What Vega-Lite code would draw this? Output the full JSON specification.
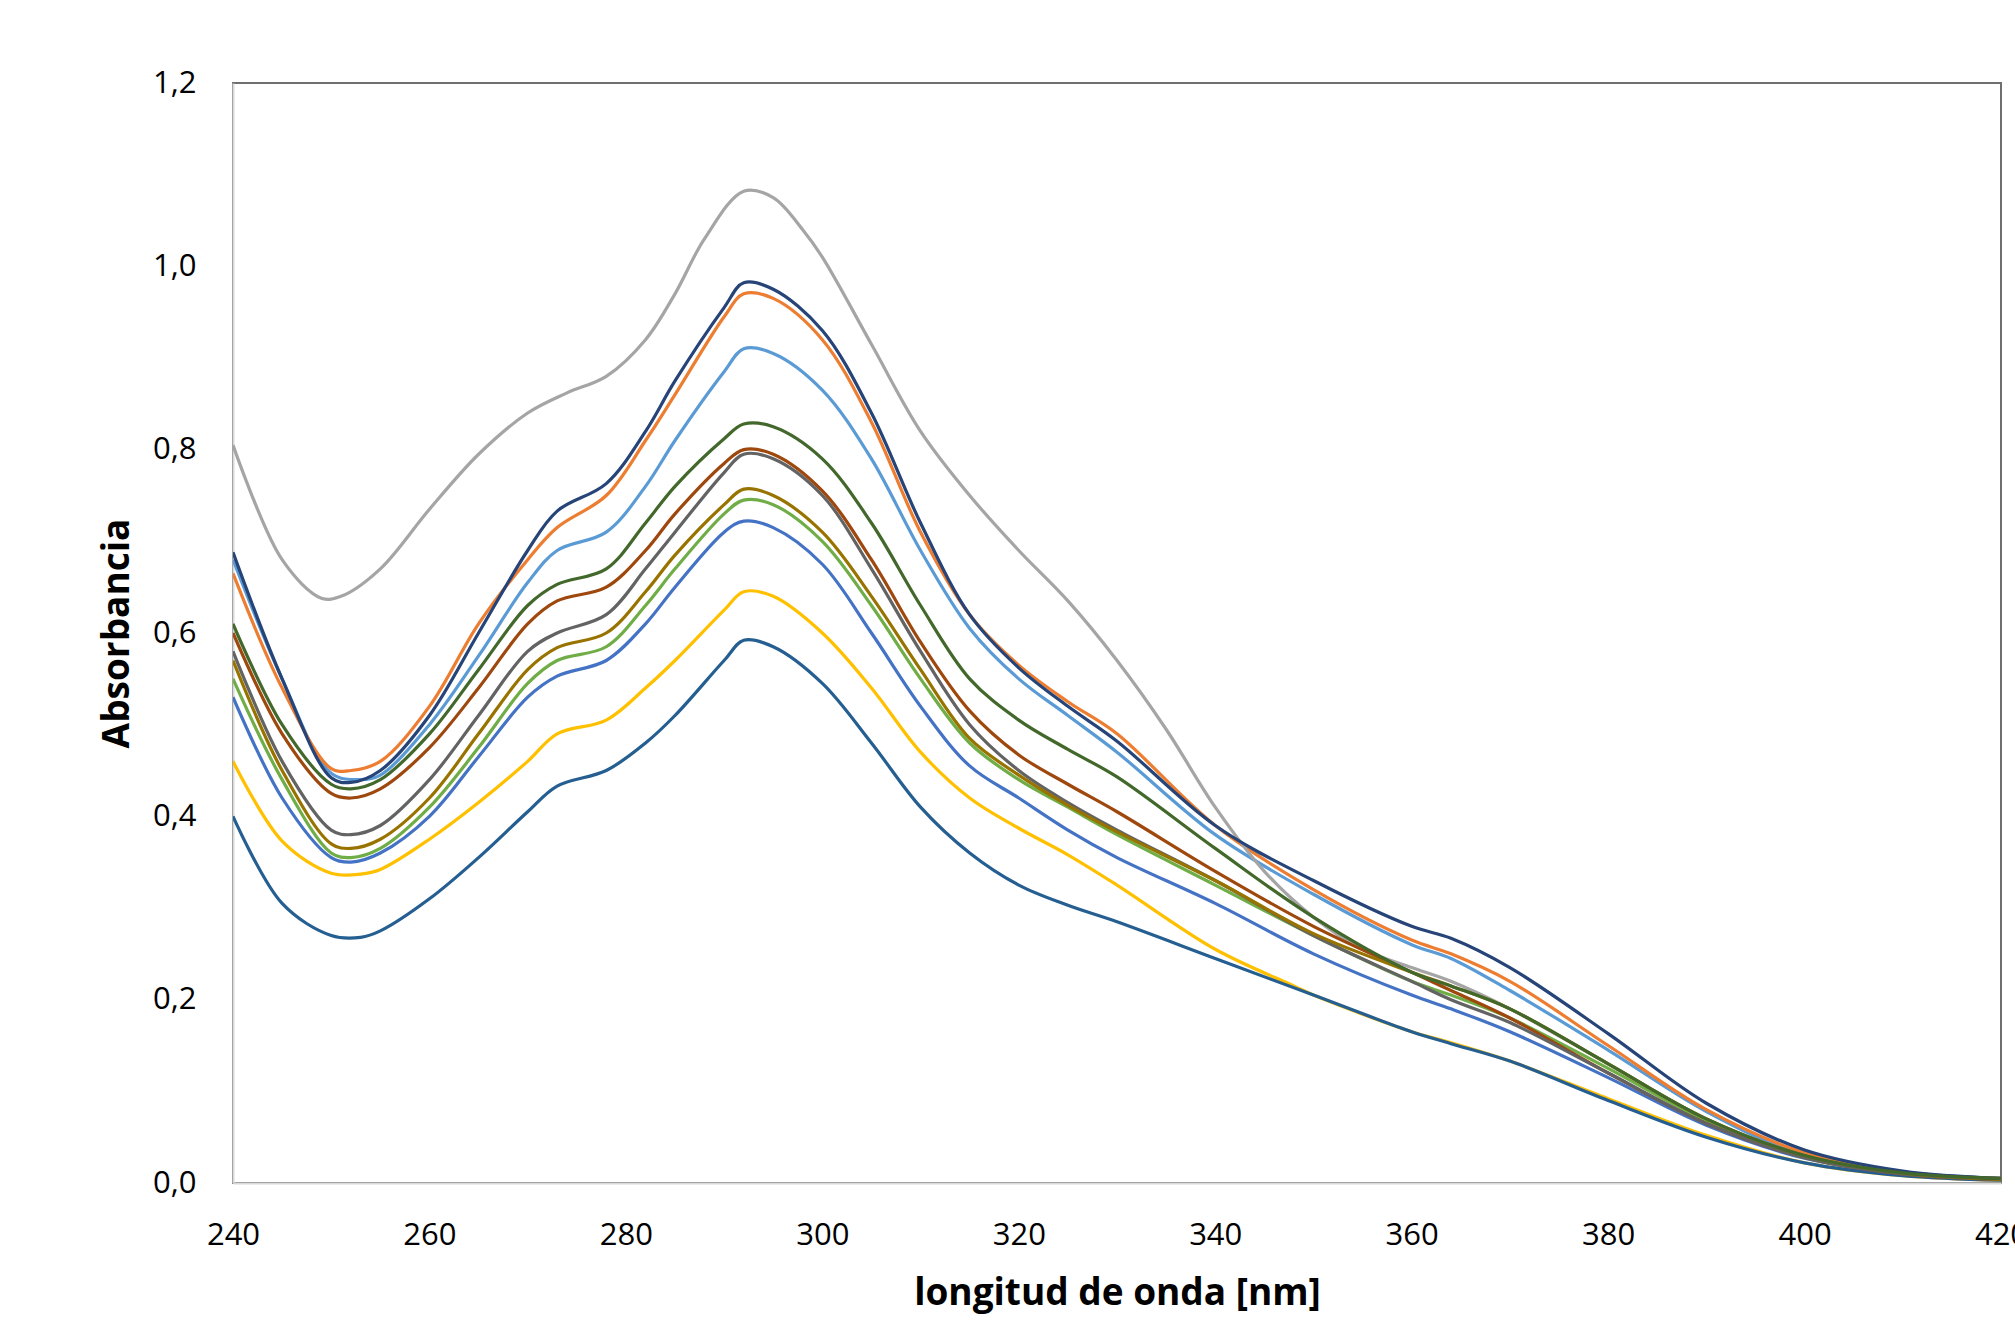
{
  "$schema": "https://vega.github.io/schema/vega-lite/v6.json",
  "width": 1768,
  "height": 1100,
  "autosize": {"type": "none"},
  "padding": {"left": 233, "top": 83, "right": 14, "bottom": 140},
  "background": "white",
  "datasets": {
    "spectra": [
      {"serie":"Serie 1","nm":240,"abs":0.68},{"serie":"Serie 1","nm":245,"abs":0.55},{"serie":"Serie 1","nm":250,"abs":0.447},{"serie":"Serie 1","nm":253,"abs":0.44},{"serie":"Serie 1","nm":255,"abs":0.445},{"serie":"Serie 1","nm":260,"abs":0.5},{"serie":"Serie 1","nm":265,"abs":0.575},{"serie":"Serie 1","nm":270,"abs":0.655},{"serie":"Serie 1","nm":273,"abs":0.69},{"serie":"Serie 1","nm":278,"abs":0.71},{"serie":"Serie 1","nm":282,"abs":0.76},{"serie":"Serie 1","nm":285,"abs":0.81},{"serie":"Serie 1","nm":290,"abs":0.885},{"serie":"Serie 1","nm":292,"abs":0.91},{"serie":"Serie 1","nm":295,"abs":0.905},{"serie":"Serie 1","nm":300,"abs":0.865},{"serie":"Serie 1","nm":305,"abs":0.79},{"serie":"Serie 1","nm":310,"abs":0.69},{"serie":"Serie 1","nm":315,"abs":0.605},{"serie":"Serie 1","nm":320,"abs":0.55},{"serie":"Serie 1","nm":325,"abs":0.51},{"serie":"Serie 1","nm":330,"abs":0.47},{"serie":"Serie 1","nm":340,"abs":0.38},{"serie":"Serie 1","nm":350,"abs":0.315},{"serie":"Serie 1","nm":360,"abs":0.26},{"serie":"Serie 1","nm":364,"abs":0.245},{"serie":"Serie 1","nm":370,"abs":0.21},{"serie":"Serie 1","nm":380,"abs":0.145},{"serie":"Serie 1","nm":390,"abs":0.078},{"serie":"Serie 1","nm":400,"abs":0.03},{"serie":"Serie 1","nm":410,"abs":0.012},{"serie":"Serie 1","nm":420,"abs":0.005},

      {"serie":"Serie 2","nm":240,"abs":0.665},{"serie":"Serie 2","nm":245,"abs":0.54},{"serie":"Serie 2","nm":250,"abs":0.452},{"serie":"Serie 2","nm":252,"abs":0.45},{"serie":"Serie 2","nm":255,"abs":0.46},{"serie":"Serie 2","nm":260,"abs":0.52},{"serie":"Serie 2","nm":265,"abs":0.61},{"serie":"Serie 2","nm":270,"abs":0.68},{"serie":"Serie 2","nm":273,"abs":0.715},{"serie":"Serie 2","nm":278,"abs":0.75},{"serie":"Serie 2","nm":282,"abs":0.81},{"serie":"Serie 2","nm":285,"abs":0.86},{"serie":"Serie 2","nm":290,"abs":0.945},{"serie":"Serie 2","nm":292,"abs":0.97},{"serie":"Serie 2","nm":295,"abs":0.965},{"serie":"Serie 2","nm":300,"abs":0.92},{"serie":"Serie 2","nm":305,"abs":0.83},{"serie":"Serie 2","nm":310,"abs":0.71},{"serie":"Serie 2","nm":315,"abs":0.62},{"serie":"Serie 2","nm":320,"abs":0.565},{"serie":"Serie 2","nm":325,"abs":0.525},{"serie":"Serie 2","nm":330,"abs":0.49},{"serie":"Serie 2","nm":340,"abs":0.39},{"serie":"Serie 2","nm":350,"abs":0.32},{"serie":"Serie 2","nm":360,"abs":0.265},{"serie":"Serie 2","nm":364,"abs":0.25},{"serie":"Serie 2","nm":370,"abs":0.22},{"serie":"Serie 2","nm":380,"abs":0.15},{"serie":"Serie 2","nm":390,"abs":0.08},{"serie":"Serie 2","nm":400,"abs":0.033},{"serie":"Serie 2","nm":410,"abs":0.012},{"serie":"Serie 2","nm":420,"abs":0.005},

      {"serie":"Serie 3","nm":240,"abs":0.805},{"serie":"Serie 3","nm":245,"abs":0.68},{"serie":"Serie 3","nm":249,"abs":0.638},{"serie":"Serie 3","nm":251,"abs":0.64},{"serie":"Serie 3","nm":255,"abs":0.67},{"serie":"Serie 3","nm":260,"abs":0.735},{"serie":"Serie 3","nm":265,"abs":0.795},{"serie":"Serie 3","nm":270,"abs":0.84},{"serie":"Serie 3","nm":274,"abs":0.862},{"serie":"Serie 3","nm":278,"abs":0.88},{"serie":"Serie 3","nm":282,"abs":0.92},{"serie":"Serie 3","nm":285,"abs":0.97},{"serie":"Serie 3","nm":288,"abs":1.03},{"serie":"Serie 3","nm":292,"abs":1.082},{"serie":"Serie 3","nm":295,"abs":1.075},{"serie":"Serie 3","nm":298,"abs":1.04},{"serie":"Serie 3","nm":300,"abs":1.01},{"serie":"Serie 3","nm":305,"abs":0.915},{"serie":"Serie 3","nm":310,"abs":0.82},{"serie":"Serie 3","nm":315,"abs":0.75},{"serie":"Serie 3","nm":320,"abs":0.69},{"serie":"Serie 3","nm":325,"abs":0.635},{"serie":"Serie 3","nm":330,"abs":0.57},{"serie":"Serie 3","nm":335,"abs":0.495},{"serie":"Serie 3","nm":340,"abs":0.41},{"serie":"Serie 3","nm":345,"abs":0.34},{"serie":"Serie 3","nm":350,"abs":0.29},{"serie":"Serie 3","nm":355,"abs":0.255},{"serie":"Serie 3","nm":360,"abs":0.235},{"serie":"Serie 3","nm":364,"abs":0.22},{"serie":"Serie 3","nm":370,"abs":0.19},{"serie":"Serie 3","nm":380,"abs":0.13},{"serie":"Serie 3","nm":390,"abs":0.07},{"serie":"Serie 3","nm":400,"abs":0.03},{"serie":"Serie 3","nm":410,"abs":0.011},{"serie":"Serie 3","nm":420,"abs":0.004},

      {"serie":"Serie 4","nm":240,"abs":0.46},{"serie":"Serie 4","nm":245,"abs":0.373},{"serie":"Serie 4","nm":250,"abs":0.338},{"serie":"Serie 4","nm":253,"abs":0.337},{"serie":"Serie 4","nm":255,"abs":0.342},{"serie":"Serie 4","nm":260,"abs":0.375},{"serie":"Serie 4","nm":265,"abs":0.415},{"serie":"Serie 4","nm":270,"abs":0.46},{"serie":"Serie 4","nm":273,"abs":0.49},{"serie":"Serie 4","nm":278,"abs":0.505},{"serie":"Serie 4","nm":282,"abs":0.54},{"serie":"Serie 4","nm":285,"abs":0.57},{"serie":"Serie 4","nm":290,"abs":0.625},{"serie":"Serie 4","nm":292,"abs":0.645},{"serie":"Serie 4","nm":295,"abs":0.64},{"serie":"Serie 4","nm":300,"abs":0.6},{"serie":"Serie 4","nm":305,"abs":0.54},{"serie":"Serie 4","nm":310,"abs":0.47},{"serie":"Serie 4","nm":315,"abs":0.42},{"serie":"Serie 4","nm":320,"abs":0.387},{"serie":"Serie 4","nm":325,"abs":0.358},{"serie":"Serie 4","nm":330,"abs":0.325},{"serie":"Serie 4","nm":340,"abs":0.255},{"serie":"Serie 4","nm":348,"abs":0.215},{"serie":"Serie 4","nm":350,"abs":0.205},{"serie":"Serie 4","nm":360,"abs":0.165},{"serie":"Serie 4","nm":364,"abs":0.153},{"serie":"Serie 4","nm":370,"abs":0.133},{"serie":"Serie 4","nm":380,"abs":0.092},{"serie":"Serie 4","nm":390,"abs":0.052},{"serie":"Serie 4","nm":400,"abs":0.022},{"serie":"Serie 4","nm":410,"abs":0.008},{"serie":"Serie 4","nm":420,"abs":0.003},

      {"serie":"Serie 5","nm":240,"abs":0.53},{"serie":"Serie 5","nm":245,"abs":0.42},{"serie":"Serie 5","nm":250,"abs":0.355},{"serie":"Serie 5","nm":252,"abs":0.35},{"serie":"Serie 5","nm":255,"abs":0.36},{"serie":"Serie 5","nm":260,"abs":0.4},{"serie":"Serie 5","nm":265,"abs":0.465},{"serie":"Serie 5","nm":270,"abs":0.53},{"serie":"Serie 5","nm":273,"abs":0.553},{"serie":"Serie 5","nm":278,"abs":0.57},{"serie":"Serie 5","nm":282,"abs":0.61},{"serie":"Serie 5","nm":285,"abs":0.65},{"serie":"Serie 5","nm":290,"abs":0.71},{"serie":"Serie 5","nm":292,"abs":0.722},{"serie":"Serie 5","nm":295,"abs":0.715},{"serie":"Serie 5","nm":300,"abs":0.675},{"serie":"Serie 5","nm":305,"abs":0.6},{"serie":"Serie 5","nm":310,"abs":0.52},{"serie":"Serie 5","nm":315,"abs":0.455},{"serie":"Serie 5","nm":320,"abs":0.42},{"serie":"Serie 5","nm":325,"abs":0.385},{"serie":"Serie 5","nm":330,"abs":0.355},{"serie":"Serie 5","nm":340,"abs":0.305},{"serie":"Serie 5","nm":350,"abs":0.25},{"serie":"Serie 5","nm":360,"abs":0.205},{"serie":"Serie 5","nm":364,"abs":0.19},{"serie":"Serie 5","nm":370,"abs":0.165},{"serie":"Serie 5","nm":380,"abs":0.115},{"serie":"Serie 5","nm":390,"abs":0.063},{"serie":"Serie 5","nm":400,"abs":0.027},{"serie":"Serie 5","nm":410,"abs":0.01},{"serie":"Serie 5","nm":420,"abs":0.004},

      {"serie":"Serie 6","nm":240,"abs":0.55},{"serie":"Serie 6","nm":245,"abs":0.44},{"serie":"Serie 6","nm":250,"abs":0.36},{"serie":"Serie 6","nm":252,"abs":0.355},{"serie":"Serie 6","nm":255,"abs":0.365},{"serie":"Serie 6","nm":260,"abs":0.41},{"serie":"Serie 6","nm":265,"abs":0.475},{"serie":"Serie 6","nm":270,"abs":0.545},{"serie":"Serie 6","nm":273,"abs":0.57},{"serie":"Serie 6","nm":278,"abs":0.585},{"serie":"Serie 6","nm":282,"abs":0.63},{"serie":"Serie 6","nm":285,"abs":0.67},{"serie":"Serie 6","nm":290,"abs":0.73},{"serie":"Serie 6","nm":292,"abs":0.745},{"serie":"Serie 6","nm":295,"abs":0.74},{"serie":"Serie 6","nm":300,"abs":0.7},{"serie":"Serie 6","nm":305,"abs":0.63},{"serie":"Serie 6","nm":310,"abs":0.55},{"serie":"Serie 6","nm":315,"abs":0.48},{"serie":"Serie 6","nm":320,"abs":0.44},{"serie":"Serie 6","nm":325,"abs":0.41},{"serie":"Serie 6","nm":330,"abs":0.38},{"serie":"Serie 6","nm":340,"abs":0.325},{"serie":"Serie 6","nm":350,"abs":0.27},{"serie":"Serie 6","nm":360,"abs":0.22},{"serie":"Serie 6","nm":364,"abs":0.205},{"serie":"Serie 6","nm":370,"abs":0.18},{"serie":"Serie 6","nm":380,"abs":0.125},{"serie":"Serie 6","nm":390,"abs":0.068},{"serie":"Serie 6","nm":400,"abs":0.028},{"serie":"Serie 6","nm":410,"abs":0.01},{"serie":"Serie 6","nm":420,"abs":0.004},

      {"serie":"Serie 7","nm":240,"abs":0.4},{"serie":"Serie 7","nm":245,"abs":0.305},{"serie":"Serie 7","nm":250,"abs":0.27},{"serie":"Serie 7","nm":253,"abs":0.268},{"serie":"Serie 7","nm":255,"abs":0.275},{"serie":"Serie 7","nm":260,"abs":0.31},{"serie":"Serie 7","nm":265,"abs":0.355},{"serie":"Serie 7","nm":270,"abs":0.405},{"serie":"Serie 7","nm":273,"abs":0.433},{"serie":"Serie 7","nm":278,"abs":0.45},{"serie":"Serie 7","nm":282,"abs":0.48},{"serie":"Serie 7","nm":285,"abs":0.51},{"serie":"Serie 7","nm":290,"abs":0.57},{"serie":"Serie 7","nm":292,"abs":0.592},{"serie":"Serie 7","nm":295,"abs":0.585},{"serie":"Serie 7","nm":300,"abs":0.545},{"serie":"Serie 7","nm":305,"abs":0.48},{"serie":"Serie 7","nm":310,"abs":0.41},{"serie":"Serie 7","nm":315,"abs":0.36},{"serie":"Serie 7","nm":320,"abs":0.325},{"serie":"Serie 7","nm":325,"abs":0.303},{"serie":"Serie 7","nm":330,"abs":0.285},{"serie":"Serie 7","nm":340,"abs":0.245},{"serie":"Serie 7","nm":350,"abs":0.205},{"serie":"Serie 7","nm":360,"abs":0.165},{"serie":"Serie 7","nm":364,"abs":0.152},{"serie":"Serie 7","nm":370,"abs":0.133},{"serie":"Serie 7","nm":380,"abs":0.09},{"serie":"Serie 7","nm":390,"abs":0.05},{"serie":"Serie 7","nm":400,"abs":0.022},{"serie":"Serie 7","nm":410,"abs":0.008},{"serie":"Serie 7","nm":420,"abs":0.003},

      {"serie":"Serie 8","nm":240,"abs":0.6},{"serie":"Serie 8","nm":245,"abs":0.49},{"serie":"Serie 8","nm":250,"abs":0.425},{"serie":"Serie 8","nm":252,"abs":0.42},{"serie":"Serie 8","nm":255,"abs":0.43},{"serie":"Serie 8","nm":260,"abs":0.475},{"serie":"Serie 8","nm":265,"abs":0.54},{"serie":"Serie 8","nm":270,"abs":0.61},{"serie":"Serie 8","nm":273,"abs":0.635},{"serie":"Serie 8","nm":278,"abs":0.65},{"serie":"Serie 8","nm":282,"abs":0.69},{"serie":"Serie 8","nm":285,"abs":0.73},{"serie":"Serie 8","nm":290,"abs":0.785},{"serie":"Serie 8","nm":292,"abs":0.8},{"serie":"Serie 8","nm":295,"abs":0.795},{"serie":"Serie 8","nm":300,"abs":0.755},{"serie":"Serie 8","nm":305,"abs":0.68},{"serie":"Serie 8","nm":310,"abs":0.59},{"serie":"Serie 8","nm":315,"abs":0.515},{"serie":"Serie 8","nm":320,"abs":0.467},{"serie":"Serie 8","nm":325,"abs":0.435},{"serie":"Serie 8","nm":330,"abs":0.405},{"serie":"Serie 8","nm":340,"abs":0.34},{"serie":"Serie 8","nm":350,"abs":0.28},{"serie":"Serie 8","nm":360,"abs":0.23},{"serie":"Serie 8","nm":364,"abs":0.21},{"serie":"Serie 8","nm":370,"abs":0.18},{"serie":"Serie 8","nm":380,"abs":0.12},{"serie":"Serie 8","nm":390,"abs":0.065},{"serie":"Serie 8","nm":400,"abs":0.028},{"serie":"Serie 8","nm":410,"abs":0.01},{"serie":"Serie 8","nm":420,"abs":0.004},

      {"serie":"Serie 9","nm":240,"abs":0.58},{"serie":"Serie 9","nm":245,"abs":0.46},{"serie":"Serie 9","nm":250,"abs":0.385},{"serie":"Serie 9","nm":252,"abs":0.38},{"serie":"Serie 9","nm":255,"abs":0.39},{"serie":"Serie 9","nm":260,"abs":0.44},{"serie":"Serie 9","nm":265,"abs":0.51},{"serie":"Serie 9","nm":270,"abs":0.58},{"serie":"Serie 9","nm":273,"abs":0.6},{"serie":"Serie 9","nm":278,"abs":0.62},{"serie":"Serie 9","nm":282,"abs":0.67},{"serie":"Serie 9","nm":285,"abs":0.71},{"serie":"Serie 9","nm":290,"abs":0.775},{"serie":"Serie 9","nm":292,"abs":0.795},{"serie":"Serie 9","nm":295,"abs":0.79},{"serie":"Serie 9","nm":300,"abs":0.75},{"serie":"Serie 9","nm":305,"abs":0.67},{"serie":"Serie 9","nm":310,"abs":0.58},{"serie":"Serie 9","nm":315,"abs":0.5},{"serie":"Serie 9","nm":320,"abs":0.45},{"serie":"Serie 9","nm":325,"abs":0.415},{"serie":"Serie 9","nm":330,"abs":0.385},{"serie":"Serie 9","nm":340,"abs":0.33},{"serie":"Serie 9","nm":350,"abs":0.27},{"serie":"Serie 9","nm":360,"abs":0.22},{"serie":"Serie 9","nm":364,"abs":0.2},{"serie":"Serie 9","nm":370,"abs":0.175},{"serie":"Serie 9","nm":380,"abs":0.12},{"serie":"Serie 9","nm":390,"abs":0.065},{"serie":"Serie 9","nm":400,"abs":0.028},{"serie":"Serie 9","nm":410,"abs":0.01},{"serie":"Serie 9","nm":420,"abs":0.004},

      {"serie":"Serie 10","nm":240,"abs":0.57},{"serie":"Serie 10","nm":245,"abs":0.45},{"serie":"Serie 10","nm":250,"abs":0.37},{"serie":"Serie 10","nm":252,"abs":0.365},{"serie":"Serie 10","nm":255,"abs":0.375},{"serie":"Serie 10","nm":260,"abs":0.42},{"serie":"Serie 10","nm":265,"abs":0.49},{"serie":"Serie 10","nm":270,"abs":0.56},{"serie":"Serie 10","nm":273,"abs":0.584},{"serie":"Serie 10","nm":278,"abs":0.6},{"serie":"Serie 10","nm":282,"abs":0.645},{"serie":"Serie 10","nm":285,"abs":0.685},{"serie":"Serie 10","nm":290,"abs":0.74},{"serie":"Serie 10","nm":292,"abs":0.757},{"serie":"Serie 10","nm":295,"abs":0.75},{"serie":"Serie 10","nm":300,"abs":0.71},{"serie":"Serie 10","nm":305,"abs":0.64},{"serie":"Serie 10","nm":310,"abs":0.56},{"serie":"Serie 10","nm":315,"abs":0.485},{"serie":"Serie 10","nm":320,"abs":0.445},{"serie":"Serie 10","nm":325,"abs":0.412},{"serie":"Serie 10","nm":330,"abs":0.383},{"serie":"Serie 10","nm":340,"abs":0.33},{"serie":"Serie 10","nm":350,"abs":0.272},{"serie":"Serie 10","nm":360,"abs":0.23},{"serie":"Serie 10","nm":364,"abs":0.215},{"serie":"Serie 10","nm":370,"abs":0.19},{"serie":"Serie 10","nm":380,"abs":0.13},{"serie":"Serie 10","nm":390,"abs":0.07},{"serie":"Serie 10","nm":400,"abs":0.03},{"serie":"Serie 10","nm":410,"abs":0.011},{"serie":"Serie 10","nm":420,"abs":0.004},

      {"serie":"Serie 11","nm":240,"abs":0.688},{"serie":"Serie 11","nm":245,"abs":0.55},{"serie":"Serie 11","nm":250,"abs":0.442},{"serie":"Serie 11","nm":252,"abs":0.437},{"serie":"Serie 11","nm":255,"abs":0.45},{"serie":"Serie 11","nm":260,"abs":0.51},{"serie":"Serie 11","nm":265,"abs":0.6},{"serie":"Serie 11","nm":270,"abs":0.69},{"serie":"Serie 11","nm":273,"abs":0.733},{"serie":"Serie 11","nm":278,"abs":0.763},{"serie":"Serie 11","nm":282,"abs":0.82},{"serie":"Serie 11","nm":285,"abs":0.875},{"serie":"Serie 11","nm":290,"abs":0.955},{"serie":"Serie 11","nm":292,"abs":0.982},{"serie":"Serie 11","nm":295,"abs":0.975},{"serie":"Serie 11","nm":300,"abs":0.93},{"serie":"Serie 11","nm":305,"abs":0.84},{"serie":"Serie 11","nm":310,"abs":0.72},{"serie":"Serie 11","nm":315,"abs":0.62},{"serie":"Serie 11","nm":320,"abs":0.562},{"serie":"Serie 11","nm":325,"abs":0.52},{"serie":"Serie 11","nm":330,"abs":0.482},{"serie":"Serie 11","nm":340,"abs":0.39},{"serie":"Serie 11","nm":350,"abs":0.33},{"serie":"Serie 11","nm":360,"abs":0.28},{"serie":"Serie 11","nm":364,"abs":0.267},{"serie":"Serie 11","nm":370,"abs":0.235},{"serie":"Serie 11","nm":380,"abs":0.163},{"serie":"Serie 11","nm":390,"abs":0.087},{"serie":"Serie 11","nm":400,"abs":0.036},{"serie":"Serie 11","nm":410,"abs":0.013},{"serie":"Serie 11","nm":420,"abs":0.005},

      {"serie":"Serie 12","nm":240,"abs":0.61},{"serie":"Serie 12","nm":245,"abs":0.5},{"serie":"Serie 12","nm":250,"abs":0.435},{"serie":"Serie 12","nm":252,"abs":0.43},{"serie":"Serie 12","nm":255,"abs":0.44},{"serie":"Serie 12","nm":260,"abs":0.49},{"serie":"Serie 12","nm":265,"abs":0.56},{"serie":"Serie 12","nm":270,"abs":0.63},{"serie":"Serie 12","nm":273,"abs":0.653},{"serie":"Serie 12","nm":278,"abs":0.67},{"serie":"Serie 12","nm":282,"abs":0.72},{"serie":"Serie 12","nm":285,"abs":0.76},{"serie":"Serie 12","nm":290,"abs":0.812},{"serie":"Serie 12","nm":292,"abs":0.828},{"serie":"Serie 12","nm":295,"abs":0.825},{"serie":"Serie 12","nm":300,"abs":0.79},{"serie":"Serie 12","nm":305,"abs":0.72},{"serie":"Serie 12","nm":310,"abs":0.63},{"serie":"Serie 12","nm":315,"abs":0.55},{"serie":"Serie 12","nm":320,"abs":0.505},{"serie":"Serie 12","nm":325,"abs":0.473},{"serie":"Serie 12","nm":330,"abs":0.443},{"serie":"Serie 12","nm":340,"abs":0.365},{"serie":"Serie 12","nm":350,"abs":0.29},{"serie":"Serie 12","nm":360,"abs":0.23},{"serie":"Serie 12","nm":364,"abs":0.215},{"serie":"Serie 12","nm":370,"abs":0.19},{"serie":"Serie 12","nm":380,"abs":0.13},{"serie":"Serie 12","nm":390,"abs":0.07},{"serie":"Serie 12","nm":400,"abs":0.03},{"serie":"Serie 12","nm":410,"abs":0.011},{"serie":"Serie 12","nm":420,"abs":0.005}
    ]
  },
  "data": {"name": "spectra"},
  "mark": {"type": "line", "strokeWidth": 3.2, "interpolate": "catmull-rom", "clip": true},
  "encoding": {
    "x": {
      "field": "nm", "type": "quantitative",
      "scale": {"domain": [240, 420], "nice": false, "zero": false},
      "axis": {
        "title": "longitud de onda [nm]",
        "values": [240, 260, 280, 300, 320, 340, 360, 380, 400, 420],
        "grid": false, "ticks": false, "labelFlush": false, "labelOverlap": false,
        "labelPadding": 37, "labelFontSize": 31, "labelFont": "Open Sans", "labelColor": "#000000",
        "domainColor": "#d9d9d9", "domainWidth": 2,
        "titleFont": "Open Sans", "titleFontSize": 37, "titleFontWeight": "bold", "titleColor": "#000000",
        "titleBaseline": "alphabetic", "titleY": 121
      }
    },
    "y": {
      "field": "abs", "type": "quantitative",
      "scale": {"domain": [0, 1.2], "nice": false},
      "axis": {
        "title": "Absorbancia",
        "values": [0, 0.2, 0.4, 0.6, 0.8, 1.0, 1.2],
        "labelExpr": "replace(format(datum.value, '.1f'), '.', ',')",
        "grid": false, "ticks": false, "labelOverlap": false, "labelFlush": false,
        "labelPadding": 37, "labelFontSize": 31, "labelFont": "Open Sans", "labelColor": "#000000",
        "domainColor": "#d9d9d9", "domainWidth": 2,
        "titleFont": "Open Sans", "titleFontSize": 37, "titleFontWeight": "bold", "titleColor": "#000000",
        "titleX": -116, "titleY": 550, "titleAlign": "center", "titleBaseline": "middle", "titleAngle": -90
      }
    },
    "color": {
      "field": "serie", "type": "nominal", "legend": null,
      "scale": {
        "domain": ["Serie 1","Serie 2","Serie 3","Serie 4","Serie 5","Serie 6","Serie 7","Serie 8","Serie 9","Serie 10","Serie 11","Serie 12"],
        "range": ["#5B9BD5","#ED7D31","#A5A5A5","#FFC000","#4472C4","#70AD47","#255E91","#9E480E","#636363","#997300","#264478","#43682B"]
      }
    },
    "order": {"field": "nm", "type": "quantitative"}
  },
  "config": {
    "view": {"stroke": "#6f6f6f", "strokeWidth": 2}
  }
}
